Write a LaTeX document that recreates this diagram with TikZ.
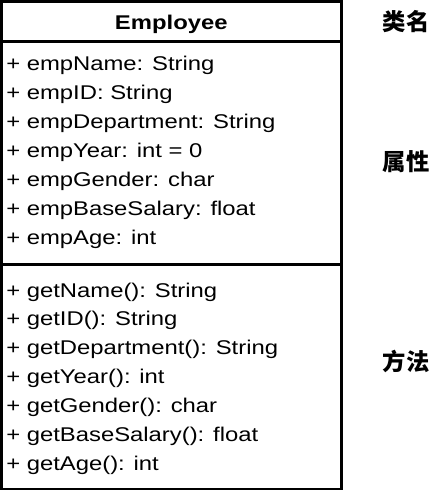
\documentclass[tikz,border=0pt]{standalone}
\usepackage{fontspec}
\setmainfont{Liberation Sans}[FakeStretch=1.2]
\newfontfamily\cjk{Noto Sans CJK SC}
\usetikzlibrary{calc}

\begin{document}
\begin{tikzpicture}[x=0.75pt,y=-0.75pt,
  member/.style={anchor=base west,inner sep=0pt,font=\fontsize{14.9}{18}\selectfont},
  classname/.style={anchor=base,inner sep=0pt,font=\fontsize{14.9}{18}\selectfont\bfseries},
  note/.style={anchor=base,inner sep=0pt,font=\fontsize{17.5}{20}\selectfont\cjk\bfseries},
  frame/.style={line width=2pt}]
\useasboundingbox (0,0) rectangle (442,495);
\coordinate (boxtl) at (1.3,1.3);
\coordinate (boxbr) at (341.3,489);
\coordinate (sepa) at (1.3,41.2);
\coordinate (sepb) at (1.3,264.7);
\draw[frame] (boxtl) rectangle (boxbr);
\draw[frame] (sepa) -- (sepa -| boxbr);
\draw[frame] (sepb) -- (sepb -| boxbr);
\node[classname] (name) at (171.3,30) {Employee};
\foreach \txt [count=\i] in {+ empName: String,+ empID: String,+ empDepartment: String,
  + empYear: int = 0,+ empGender: char,+ empBaseSalary: float,+ empAge: int}
  \node[member] (attr\i) at (6,{70.7+28.9*(\i-1)}) {\txt};
\foreach \txt [count=\i] in {+ getName(): String,+ getID(): String,+ getDepartment(): String,
  + getYear(): int,+ getGender(): char,+ getBaseSalary(): float,+ getAge(): int}
  \node[member] (meth\i) at (6,{297+28.9*(\i-1)}) {\txt};
\node[note] (lblname) at (406,31) {类名};
\node[note] (lblattr) at (406,170.5) {属性};
\node[note] (lblmeth) at (406,370) {方法};
\end{tikzpicture}
\end{document}
